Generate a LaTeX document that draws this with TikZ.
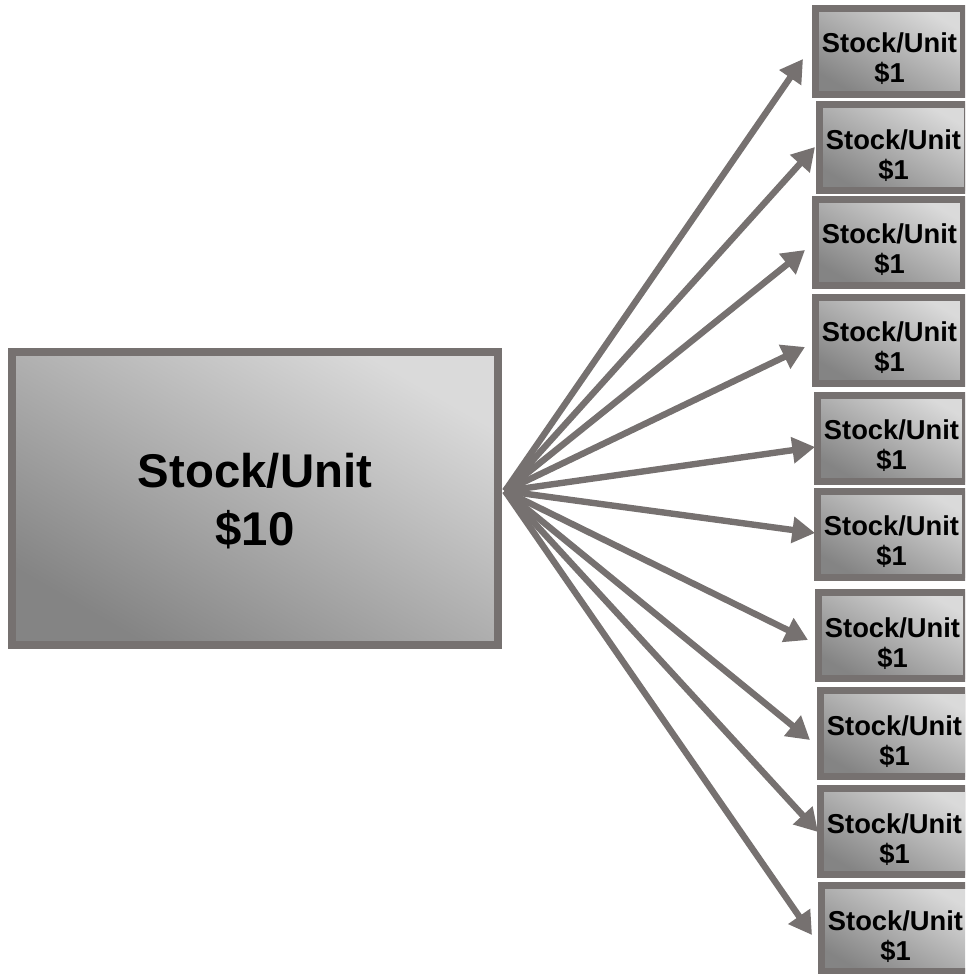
\documentclass[tikz,border=0pt]{standalone}
\usepackage{fontspec}
\setmainfont{Liberation Sans}
\usetikzlibrary{arrows.meta}
\definecolor{edgegray}{HTML}{767170}
\definecolor{shadelight}{HTML}{DADADA}
\definecolor{shadedark}{HTML}{848484}
\tikzset{
  boxbase/.style={draw=edgegray, top color=shadelight, bottom color=shadedark,
    shading angle=-30, inner sep=0pt, outer sep=0pt, align=center,
    font=\bfseries, text=black},
  unitbox/.style={boxbase, line width=5.25pt, minimum width=111pt,
    minimum height=64.5pt, text height=51.25pt, text depth=4pt,
    font=\fontsize{20.5pt}{22.5pt}\selectfont\bfseries},
  mainbox/.style={boxbase, line width=6pt, minimum width=364.5pt,
    minimum height=219.75pt, text height=75.8pt, text depth=6pt,
    font=\fontsize{35.5pt}{43pt}\selectfont\bfseries},
  conn/.style={draw=edgegray, line width=4.8pt,
    -{Triangle[length=17pt,width=19pt]}}
}
\begin{document}
\begin{tikzpicture}[x=0.75pt,y=-0.75pt]
\useasboundingbox (0,0) rectangle (965,974);
\clip (0,0) rectangle (965,974);

% the single ten-dollar unit
\node[mainbox] (big) at (255,498.5) {Stock/Unit\\\$10};
\coordinate (hub) at (505,491);

% ten one-dollar units
\node[unitbox] (b1)  at (889.5,51.5)  {Stock/Unit\\\$1};
\node[unitbox] (b2)  at (893.5,147.5) {Stock/Unit\\\$1};
\node[unitbox] (b3)  at (889.5,242)   {Stock/Unit\\\$1};
\node[unitbox] (b4)  at (889.5,340)   {Stock/Unit\\\$1};
\node[unitbox] (b5)  at (891.5,438)   {Stock/Unit\\\$1};
\node[unitbox] (b6)  at (891.5,534)   {Stock/Unit\\\$1};
\node[unitbox] (b7)  at (892.5,635.5) {Stock/Unit\\\$1};
\node[unitbox] (b8)  at (894.5,733.5) {Stock/Unit\\\$1};
\node[unitbox] (b9)  at (894.5,831.5) {Stock/Unit\\\$1};
\node[unitbox] (b10) at (895.5,928.5) {Stock/Unit\\\$1};

% split arrows
\draw[conn] (hub) -- ([shift={(-12.5,7.5)}]b1.west);
\draw[conn] (hub) -- ([shift={(-4.5,-0.5)}]b2.west);
\draw[conn] (hub) -- ([shift={(-10.5,8)}]b3.west);
\draw[conn] (hub) -- ([shift={(-10.5,7)}]b4.west);
\draw[conn] (hub) -- ([shift={(-2.5,9)}]b5.west);
\draw[conn] (hub) -- ([shift={(-2.5,-1)}]b6.west);
\draw[conn] (hub) -- ([shift={(-10.5,4.5)}]b7.west);
\draw[conn] (hub) -- ([shift={(-10.5,6.5)}]b8.west);
\draw[conn] (hub) -- ([shift={(-2.5,0.5)}]b9.west);
\draw[conn] (hub) -- ([shift={(-9.5,6.5)}]b10.west);
\end{tikzpicture}
\end{document}
